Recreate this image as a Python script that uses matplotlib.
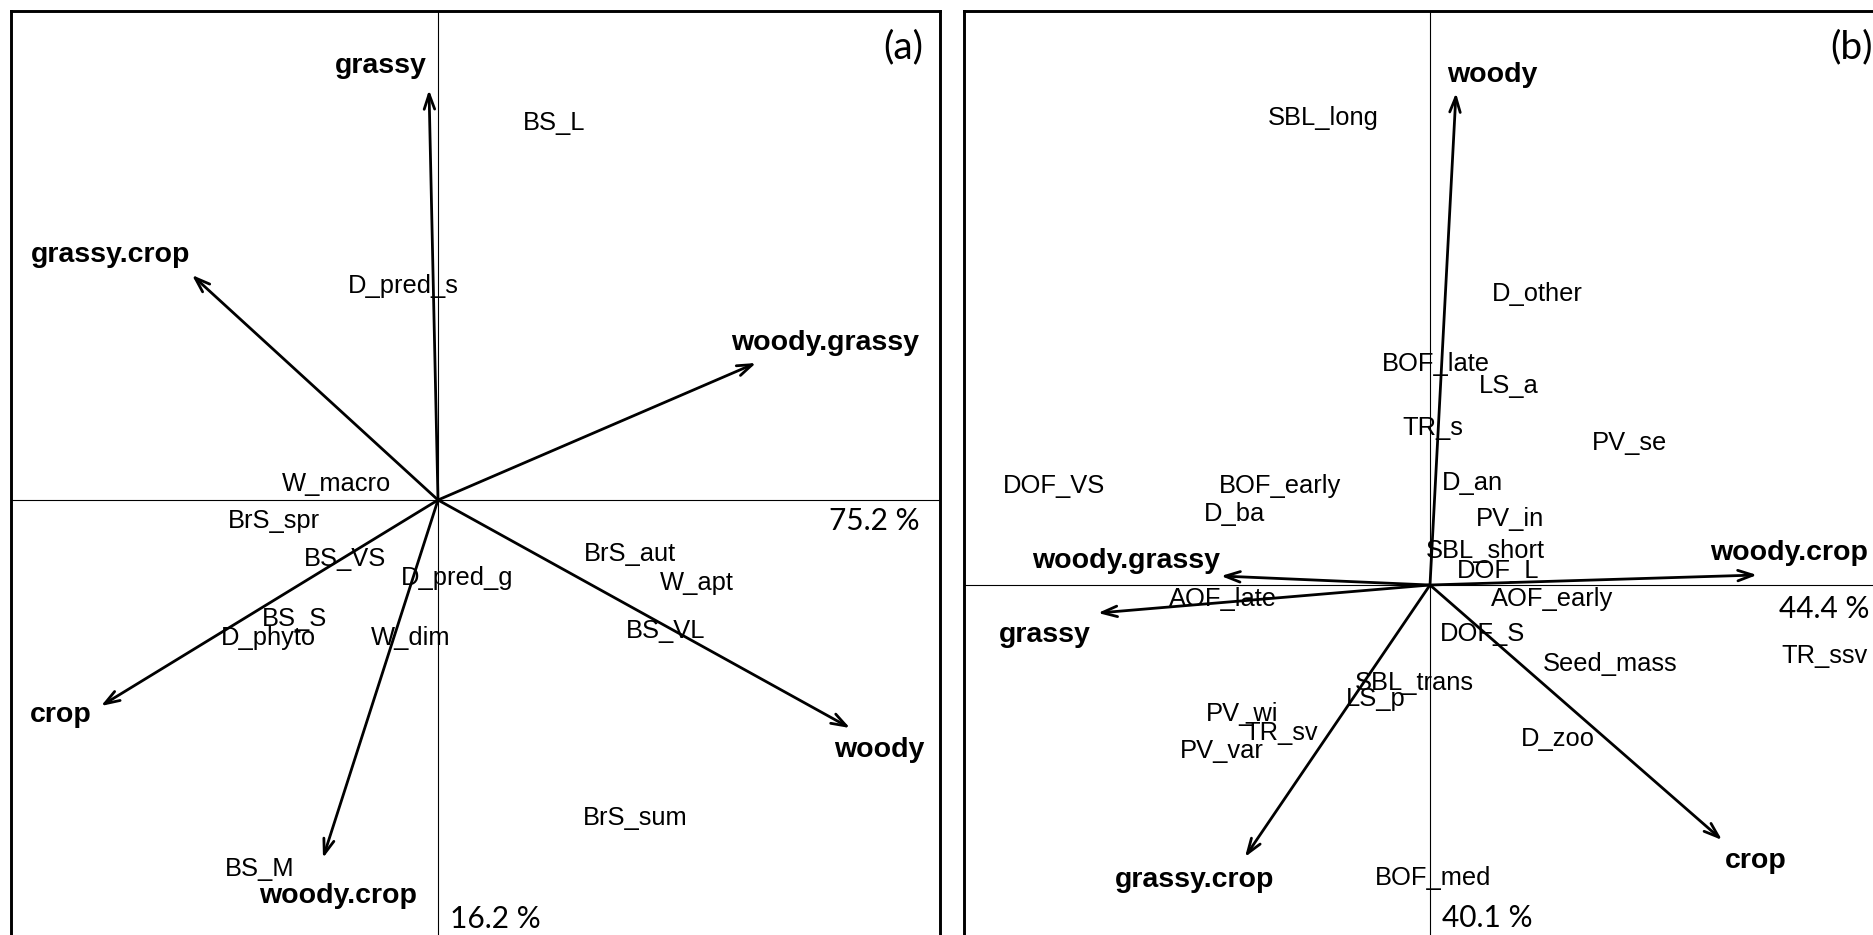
import matplotlib
matplotlib.use('Agg')
import matplotlib.pyplot as plt

# ---- panel (a): arrows (tips), group labels, trait labels ----
a_groups = ['grassy', 'grassy.crop', 'woody.grassy', 'crop', 'woody', 'woody.crop']
a_tip_x = [-0.09, -2.46, 3.18, -3.37, 4.12, -1.15]
a_tip_y = [4.10, 2.25, 1.37, -2.06, -2.28, -3.58]
a_lab_x = [-0.57, -3.27, 3.87, -3.77, 4.41, -1.00]
a_lab_y = [4.27, 2.38, 1.50, -2.22, -2.57, -4.03]

a_traits = ['BS_L', 'D_pred_s', 'W_macro', 'BrS_spr', 'BrS_aut', 'BS_VS', 'D_pred_g',
            'W_apt', 'BS_S', 'D_phyto', 'W_dim', 'BS_VL', 'BrS_sum', 'BS_M']
a_trait_x = [1.16, -0.35, -1.01, -1.64, 1.92, -0.93, 0.19, 2.59, -1.43, -1.70, -0.27, 2.28, 1.97, -1.78]
a_trait_y = [3.70, 2.07, 0.09, -0.28, -0.61, -0.66, -0.85, -0.90, -1.26, -1.45, -1.45, -1.38, -3.25, -3.76]

a_pct = ['75.2 %', '16.2 %']
a_pct_x = [4.36, 0.57]
a_pct_y = [-0.30, -4.28]

# ---- panel (b) ----
b_groups = ['woody', 'woody.grassy', 'woody.crop', 'grassy', 'crop', 'grassy.crop']
b_tip_x = [0.26, -2.09, 3.27, -3.32, 2.92, -1.85]
b_tip_y = [4.92, 0.09, 0.10, -0.28, -2.55, -2.72]
b_lab_x = [0.62, -3.04, 3.59, -3.85, 3.26, -2.35]
b_lab_y = [5.03, 0.17, 0.25, -0.57, -2.83, -3.02]

b_traits = ['SBL_long', 'D_other', 'BOF_late', 'LS_a', 'TR_s', 'PV_se', 'DOF_VS', 'BOF_early',
            'D_an', 'D_ba', 'PV_in', 'SBL_short', 'DOF_L', 'AOF_late', 'AOF_early', 'DOF_S',
            'Seed_mass', 'TR_ssv', 'SBL_trans', 'LS_p', 'PV_wi', 'TR_sv', 'PV_var', 'D_zoo', 'BOF_med']
b_trait_x = [-1.07, 1.07, 0.06, 0.79, 0.03, 2.00, -3.76, -1.50, 0.42, -1.95, 0.80, 0.55, 0.68,
             -2.07, 1.22, 0.53, 1.80, 3.95, -0.16, -0.54, -1.88, -1.49, -2.08, 1.28, 0.03]
b_trait_y = [4.60, 2.84, 2.14, 1.92, 1.50, 1.35, 0.92, 0.92, 0.95, 0.64, 0.59, 0.27, 0.07,
             -0.21, -0.21, -0.56, -0.86, -0.78, -1.05, -1.21, -1.36, -1.55, -1.73, -1.61, -3.00]

b_pct = ['44.4 %', '40.1 %']
b_pct_x = [3.94, 0.57]
b_pct_y = [-0.33, -3.42]

W, H = 1874, 935
fig = plt.figure(figsize=(W / 100, H / 100), dpi=100)


def panel(rect, xlim, ylim, tipx, tipy, groups, labx, laby, traits, tx, ty, pct, px, py, tag, tagxy):
    ax = fig.add_axes(rect)
    ax.set_xlim(*xlim)
    ax.set_ylim(*ylim)
    ax.set_xticks([])
    ax.set_yticks([])
    for s in ax.spines.values():
        s.set_linewidth(2.1)
    ax.axhline(0, color='black', lw=0.8)
    ax.axvline(0, color='black', lw=0.8)
    for x, y in zip(tipx, tipy):
        ax.annotate('', xy=(x, y), xytext=(0, 0),
                    arrowprops=dict(arrowstyle='->,head_length=0.4,head_width=0.14',
                                    lw=2.0, color='black', shrinkA=0, shrinkB=0,
                                    mutation_scale=27))
    for g, x, y in zip(groups, labx, laby):
        ax.text(x, y, g, ha='center', va='baseline', fontsize=20.5, fontweight='bold',
                family='Liberation Sans')
    for t, x, y in zip(traits, tx, ty):
        ax.text(x, y, t, ha='center', va='baseline', fontsize=18.4, family='Liberation Sans')
    for t, x, y in zip(pct, px, py):
        ax.text(x, y, t, ha='center', va='baseline', fontsize=21.5, family='Lato')
    ax.text(tagxy[0], tagxy[1], tag, ha='center', va='center', fontsize=28, family='Lato')
    return ax


top = 11
bot = 945
ry = 1 - bot / H
rh = (bot - top) / H

panel([11 / W, ry, (940 - 11) / W, rh], (-4.27, 5.02), (-4.45, 4.89),
      a_tip_x, a_tip_y, a_groups, a_lab_x, a_lab_y, a_traits, a_trait_x, a_trait_y,
      a_pct, a_pct_x, a_pct_y, '(a)', (4.65, 4.53))

panel([964 / W, ry, (1890 - 964) / W, rh], (-4.66, 4.60), (-3.60, 5.74),
      b_tip_x, b_tip_y, b_groups, b_lab_x, b_lab_y, b_traits, b_trait_x, b_trait_y,
      b_pct, b_pct_x, b_pct_y, '(b)', (4.21, 5.38))

fig.savefig('out.png', dpi=100)
